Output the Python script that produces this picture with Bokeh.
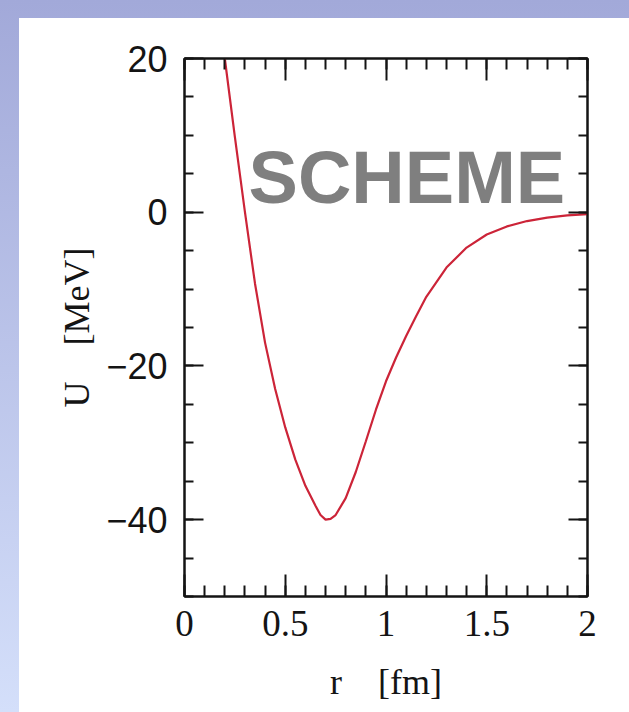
import numpy as np
from bokeh.plotting import figure
from bokeh.models import Label, LinearAxis, FixedTicker, Range1d
from bokeh.embed import file_html
from bokeh.resources import INLINE

# data
r_fm = [0.20, 0.25, 0.30, 0.35, 0.40, 0.45, 0.50, 0.55, 0.60, 0.65, 0.675, 0.70,
        0.725, 0.75, 0.80, 0.85, 0.90, 0.95, 1.00, 1.05, 1.10, 1.15, 1.20, 1.30,
        1.40, 1.50, 1.60, 1.70, 1.80, 1.90, 2.00]
u_mev = [20.0, 9.8, 0.0, -9.3, -17.0, -23.0, -28.0, -32.2, -35.6, -38.2, -39.4, -40.0,
         -39.9, -39.4, -37.2, -33.8, -29.8, -25.7, -22.0, -18.9, -16.1, -13.5, -11.0, -7.2,
         -4.6, -2.9, -1.85, -1.15, -0.7, -0.42, -0.25]

x_major = [0, 0.5, 1, 1.5, 2]
x_minor = [round(0.1 * i, 1) for i in range(21)]
x_labels = {0: "0", 0.5: "0.5", 1: "1", 1.5: "1.5", 2: "2"}
y_major = [-40, -20, 0, 20]
y_minor = list(range(-50, 21, 5))
y_labels = {-40: "\u221240", -20: "\u221220", 0: "0", 20: "20"}
x_title = "r\u2003[fm]"
y_title = "U\u2003[MeV]"
overlay_word = "SCHEME"

INK = "#141414"

p = figure(width=629, height=712, x_range=Range1d(0, 2), y_range=Range1d(-50, 20),
           output_backend="svg", toolbar_location=None,
           min_border_left=184, min_border_right=42, min_border_top=58, min_border_bottom=116)
p.xgrid.visible = False
p.ygrid.visible = False
p.background_fill_color = "white"
p.border_fill_color = None
p.outline_line_color = INK
p.outline_line_width = 2
p.styles = {"background": "linear-gradient(#ffffff, #ffffff) 19px 18px / 610px 694px no-repeat, "
                          "linear-gradient(to bottom, #a2a9d9, #d4dffa)"}


def style_axis(ax, major_len, minor_len):
    ax.axis_line_color = INK
    ax.axis_line_width = 2
    ax.major_tick_in = major_len
    ax.major_tick_out = 0
    ax.minor_tick_in = minor_len
    ax.minor_tick_out = 0
    ax.major_tick_line_color = INK
    ax.minor_tick_line_color = INK
    ax.major_tick_line_width = 2
    ax.minor_tick_line_width = 2


xa = p.xaxis[0]
xa.ticker = FixedTicker(ticks=x_major, minor_ticks=x_minor)
xa.major_label_overrides = x_labels
style_axis(xa, 22, 11)
xa.major_label_text_font = "Liberation Serif"
xa.major_label_text_font_size = "37px"
xa.major_label_text_color = INK
xa.major_label_standoff = 14
xa.axis_label = x_title
xa.axis_label_text_font = "Liberation Serif"
xa.axis_label_text_font_style = "normal"
xa.axis_label_text_font_size = "36px"
xa.axis_label_text_color = INK
xa.axis_label_standoff = 23

ya = p.yaxis[0]
ya.ticker = FixedTicker(ticks=y_major, minor_ticks=y_minor)
ya.major_label_overrides = y_labels
style_axis(ya, 19, 9)
ya.major_label_text_font = "Liberation Sans"
ya.major_label_text_font_size = "36px"
ya.major_label_text_color = INK
ya.major_label_standoff = 17
ya.axis_label = y_title
ya.axis_label_text_font = "Liberation Serif"
ya.axis_label_text_font_style = "normal"
ya.axis_label_text_font_size = "36px"
ya.axis_label_text_color = INK
ya.axis_label_standoff = 6

top = LinearAxis(ticker=FixedTicker(ticks=x_major, minor_ticks=x_minor))
style_axis(top, 22, 11)
top.major_label_text_font_size = "0px"
top.major_label_text_color = None
top.major_label_standoff = 0
p.add_layout(top, "above")

right = LinearAxis(ticker=FixedTicker(ticks=y_major, minor_ticks=y_minor))
style_axis(right, 19, 9)
right.major_label_text_font_size = "0px"
right.major_label_text_color = None
right.major_label_standoff = 0
p.add_layout(right, "right")

p.line(r_fm, u_mev, line_color="#cc2438", line_width=2.2)

# overlay word
p.add_layout(Label(x=0.318, y=4.51, text=overlay_word, text_font="Liberation Sans",
                   text_font_style="bold", text_font_size="74px", text_color="#7f7f7f",
                   text_align="left", text_baseline="alphabetic"))

open("out.html", "w").write(file_html(p, INLINE))
